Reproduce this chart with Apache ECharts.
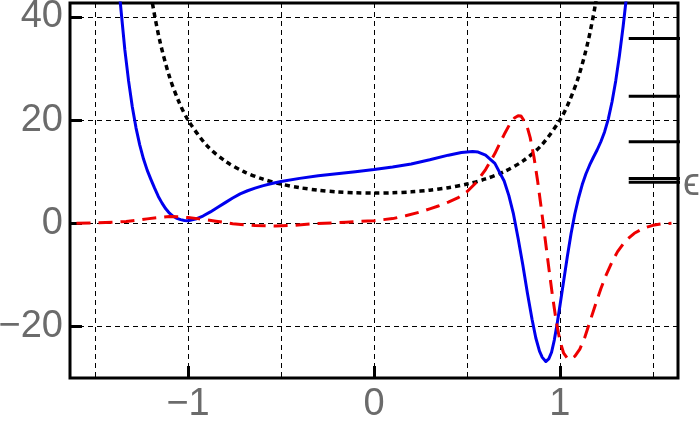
<!DOCTYPE html>
<html>
<head>
<meta charset="utf-8">
<script src="https://cdn.jsdelivr.net/npm/echarts@6/dist/echarts.min.js"></script>
<style>
  html, body { margin: 0; padding: 0; background: #fff; }
  #main { width: 700px; height: 428px; }
</style>
</head>
<body>
<div id="main"></div>
<script>
// axis ranges
var xRange = [-1.635, 1.635];
var yRange = [-30, 42.7];

// blue solid curve
var blueX = [-1.375, -1.364, -1.34, -1.32, -1.30, -1.28, -1.26, -1.24, -1.22, -1.20, -1.18, -1.16, -1.14, -1.12, -1.10, -1.08, -1.06, -1.04, -1.02, -1.0, -0.96, -0.92, -0.88, -0.84, -0.80, -0.76, -0.72, -0.68, -0.64, -0.60, -0.55, -0.5, -0.4, -0.3, -0.2, -0.1, 0, 0.1, 0.2, 0.3, 0.4, 0.47, 0.53, 0.56, 0.6, 0.65, 0.70, 0.725, 0.75, 0.775, 0.80, 0.825, 0.85, 0.87, 0.89, 0.905, 0.924, 0.94, 0.955, 0.97, 0.985, 1.0, 1.02, 1.04, 1.06, 1.08, 1.10, 1.12, 1.14, 1.16, 1.18, 1.20, 1.22, 1.24, 1.26, 1.28, 1.30, 1.32, 1.34, 1.36];
var blueY = [47.5, 42.6, 33.6, 27.6, 22.6, 18.5, 15.2, 12.5, 10.3, 8.5, 6.8, 5.2, 3.9, 2.8, 1.95, 1.35, 0.95, 0.7, 0.55, 0.5, 0.8, 1.4, 2.2, 3.1, 4.0, 4.9, 5.7, 6.3, 6.8, 7.25, 7.7, 8.1, 8.7, 9.2, 9.6, 10.0, 10.4, 10.9, 11.5, 12.3, 13.2, 13.7, 13.9, 13.8, 13.2, 11.6, 8.2, 5.4, 1.8, -2.9, -8.0, -13.5, -18.6, -22.2, -24.8, -26.0, -26.8, -26.3, -25.0, -22.6, -19.5, -16.0, -11.2, -6.4, -2.0, 1.8, 4.9, 7.5, 9.6, 11.3, 12.8, 14.2, 15.8, 17.7, 20.2, 23.5, 27.6, 32.5, 38.2, 44.6];

// red dashed curve
var redX = [-1.6, -1.5, -1.4, -1.333, -1.27, -1.22, -1.16, -1.1, -1.05, -1.0, -0.94, -0.85, -0.76, -0.64, -0.53, -0.43, -0.33, -0.15, 0, 0.1, 0.17, 0.24, 0.3, 0.35, 0.4, 0.45, 0.5, 0.55, 0.6, 0.65, 0.7, 0.73, 0.755, 0.775, 0.79, 0.80, 0.82, 0.84, 0.86, 0.88, 0.90, 0.92, 0.94, 0.96, 0.98, 1.0, 1.02, 1.04, 1.055, 1.08, 1.107, 1.133, 1.16, 1.19, 1.22, 1.25, 1.28, 1.31, 1.35, 1.40, 1.45, 1.50, 1.55, 1.6];
var redY = [0, 0.05, 0.2, 0.33, 0.6, 0.85, 1.1, 1.3, 1.25, 1.1, 0.85, 0.4, -0.1, -0.45, -0.55, -0.4, -0.1, 0.2, 0.5, 0.9, 1.45, 2.1, 2.8, 3.4, 4.1, 4.9, 6.1, 7.9, 10.4, 13.5, 17.2, 19.2, 20.4, 20.85, 20.8, 20.5, 19.2, 16.6, 12.9, 8.2, 2.8, -2.9, -8.6, -14.1, -19.0, -22.8, -25.2, -26.2, -26.4, -25.8, -24.4, -22.2, -19.2, -15.9, -12.7, -9.9, -7.5, -5.5, -3.5, -1.95, -0.95, -0.4, -0.1, 0];

// black dotted potential
var potX = [-1.22, -1.19, -1.15, -1.1, -1.05, -1.0, -0.9, -0.8, -0.7, -0.6, -0.5, -0.4, -0.3, -0.2, -0.1, 0, 0.1, 0.2, 0.3, 0.4, 0.5, 0.6, 0.7, 0.8, 0.9, 1.0, 1.05, 1.1, 1.15, 1.19, 1.22];
var potY = [49.5, 42.3, 35.05, 28.4, 23.6, 20.0, 15.1, 12.05, 10.0, 8.59, 7.6, 6.9, 6.41, 6.09, 5.91, 5.85, 5.91, 6.09, 6.41, 6.9, 7.6, 8.59, 10.0, 12.05, 15.1, 20.0, 23.6, 28.4, 35.05, 42.3, 49.5];

// energy levels at the right
var levels = [35.8, 24.6, 15.8, 8.7, 7.95];
var levelX = [1.37, 1.7];

function pairs(xs, ys) {
    return xs.map(function (x, i) { return [x, ys[i]]; });
}
function minus(v) {
    return String(v).replace('-', '\u2212');
}

var labelStyle = {
    color: '#6b6b6b',
    fontSize: 38,
    fontFamily: 'Liberation Sans, Arial, sans-serif'
};
var tickStyle = { show: true, inside: true, length: 12, lineStyle: { color: '#000', width: 3 } };
var gridLine = { show: true, lineStyle: { color: '#000', width: 1, type: [5, 4] } };

var myChart = echarts.init(document.getElementById('main'));

function curve(xs, ys, lineStyle, smooth) {
    return {
        type: 'line',
        data: pairs(xs, ys),
        smooth: smooth,
        showSymbol: false,
        lineStyle: Object.assign({ join: 'round' }, lineStyle)
    };
}

var series = [
    curve(potX, potY, { color: '#000', width: 3.5, type: [5, 4], cap: 'butt' }, 0.3),
    curve(blueX, blueY, { color: '#0000ee', width: 3 }, false),
    curve(redX, redY, { color: '#ee0000', width: 3, type: [14, 8], cap: 'butt' }, false)
];
levels.forEach(function (e) {
    series.push({
        type: 'line',
        data: [[levelX[0], e], [levelX[1], e]],
        showSymbol: false,
        lineStyle: { color: '#000', width: 3 }
    });
});

var option = {
    animation: false,
    grid: {
        left: 70, right: 22, top: 3, bottom: 50,
        show: true,
        borderColor: '#000',
        borderWidth: 3,
        outerBoundsMode: 'none'
    },
    xAxis: [
        {
            type: 'value',
            min: xRange[0], max: xRange[1],
            minInterval: 0.5, maxInterval: 0.5,
            axisLine: { show: false, onZero: false },
            axisTick: { show: false },
            axisLabel: { show: false },
            splitLine: gridLine
        },
        {
            type: 'value',
            position: 'bottom',
            min: xRange[0], max: xRange[1],
            minInterval: 1, maxInterval: 1,
            axisLine: { show: false, onZero: false },
            axisTick: tickStyle,
            axisLabel: Object.assign({
                margin: 8,
                showMinLabel: false,
                showMaxLabel: false,
                formatter: minus
            }, labelStyle),
            splitLine: { show: false }
        }
    ],
    yAxis: {
        type: 'value',
        position: 'left',
        min: yRange[0], max: yRange[1],
        minInterval: 20, maxInterval: 20,
        axisLine: { show: false, onZero: false },
        axisTick: tickStyle,
        axisLabel: Object.assign({
            margin: 7,
            showMinLabel: false,
            showMaxLabel: false,
            formatter: minus
        }, labelStyle),
        splitLine: gridLine
    },
    graphic: [{
        type: 'text',
        left: 683,
        top: 166,
        style: {
            text: '\u03F5',
            fill: '#6b6b6b',
            fontSize: 38,
            fontFamily: 'Liberation Sans, DejaVu Sans, sans-serif'
        }
    }],
    series: series
};
option && myChart.setOption(option);
</script>
</body>
</html>
